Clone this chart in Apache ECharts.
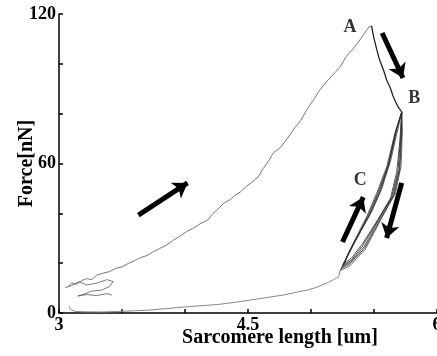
<!DOCTYPE html>
<html><head><meta charset="utf-8">
<script src="https://cdn.jsdelivr.net/npm/echarts@6/dist/echarts.min.js"></script>
<style>html,body{margin:0;padding:0;background:#fff}#c{width:437px;height:356px}</style>
</head><body><div id="c"></div>
<script>
// [sarcomere length (um), force (nN)]
const loading = [[3.07,10.4],[3.10,12.1],[3.14,11.5],[3.18,13.0],[3.22,13.8],[3.26,13.4],[3.30,15.2],[3.35,16.0],[3.40,16.6],[3.45,17.9],[3.50,18.5],[3.55,19.9],[3.60,21.0],[3.65,22.3],[3.70,23.1],[3.75,24.6],[3.80,25.9],[3.85,27.2],[3.91,29.3],[3.96,30.8],[4.01,32.6],[4.06,33.9],[4.12,35.8],[4.18,37.3],[4.22,39.8],[4.26,41.7],[4.31,44.1],[4.36,45.6],[4.40,47.3],[4.44,48.6],[4.49,51.0],[4.53,52.4],[4.58,54.6],[4.62,57.9],[4.66,60.8],[4.70,64.2],[4.76,66.5],[4.82,70.6],[4.87,74.3],[4.92,77.4],[4.97,81.8],[5.02,85.6],[5.07,89.5],[5.12,92.6],[5.17,95.4],[5.23,98.7],[5.28,102.9],[5.33,105.8],[5.37,108.3],[5.42,111.9],[5.46,114.8],[5.48,115.2]];
const relaxation = [[5.48,115.2],[5.50,110.2],[5.52,106.1],[5.54,102.3],[5.56,99.5],[5.58,96.8],[5.60,93.5],[5.63,90.3],[5.65,87.2],[5.67,84.9],[5.69,82.8],[5.72,80.7]];
const cycle1 = [[5.72,80.7],[5.725,73],[5.715,59],[5.67,48],[5.565,38.5],[5.43,25.5],[5.31,19],[5.23,17],[5.26,19.5],[5.30,24.5],[5.37,31.5],[5.44,38.5],[5.52,48],[5.60,58.6],[5.665,72],[5.72,80.7]];
const cycle2 = [[5.72,80.7],[5.72,72],[5.705,58],[5.66,47.5],[5.56,38.5],[5.425,26],[5.31,19.8],[5.24,17.8],[5.27,20.5],[5.31,25.3],[5.38,32],[5.45,38.8],[5.53,48.2],[5.61,59],[5.67,72.5],[5.72,80.7]];
const cycle3 = [[5.72,80.7],[5.715,71],[5.70,57.5],[5.65,47],[5.55,38.5],[5.42,26.5],[5.315,20.5],[5.245,18.5],[5.275,21.2],[5.32,26],[5.39,32.6],[5.46,39.2],[5.54,48.5],[5.615,59.4],[5.675,73],[5.72,80.7]];
const cycle4 = [[5.72,80.7],[5.71,70],[5.69,57],[5.64,46.5],[5.54,38],[5.41,27],[5.32,21.2],[5.25,19],[5.28,22],[5.33,26.8],[5.40,33.4],[5.47,39.8],[5.55,49],[5.62,60],[5.68,73.5],[5.72,80.7]];
const cycle5 = [[5.72,80.7],[5.705,69],[5.68,56.5],[5.63,46],[5.53,37.5],[5.405,27.5],[5.32,22],[5.255,19.6],[5.29,23],[5.34,27.8],[5.41,34.2],[5.48,40.5],[5.56,49.6],[5.63,60.8],[5.69,74],[5.72,80.7]];
const unloading = [[5.23,17],[5.22,14.6],[5.18,13.4],[5.12,11.9],[5.05,10.4],[4.98,9.3],[4.90,8.5],[4.78,7.2],[4.66,6.3],[4.52,5.2],[4.40,4.3],[4.26,3.4],[4.12,2.9],[3.99,2.4],[3.86,1.8],[3.73,1.2],[3.60,0.9],[3.46,0.6],[3.33,0.4],[3.20,0.5],[3.13,0.6],[3.09,1.4],[3.08,2.8]];
const tangle = [[3.05,10.2],[3.10,11.0],[3.16,12.6],[3.22,11.2],[3.30,12.0],[3.38,13.4],[3.43,12.6],[3.40,10.6],[3.34,9.2],[3.26,8.8],[3.20,7.6],[3.15,6.8],[3.22,7.4],[3.30,7.0],[3.38,7.8],[3.42,7.2]];
// arrows: [tail, head]
const arrows = [[[3.63,39.3],[4.02,52.2]],[[5.565,112.4],[5.73,94.3]],[[5.25,28.5],[5.415,46.5]],[[5.72,52.2],[5.60,30.1]]];
const markers = [[5.31,114.8,'A'],[5.82,86.3,'B'],[5.39,53.4,'C']];
const xTickLabels = ['3','4.5','6'];
const yTickLabels = ['0','60','120'];

const font = 'Liberation Serif';
function lineSeries(data, color, width) {
  return {type:'line', data:data, showSymbol:false, symbol:'none', silent:true, animation:false,
    lineStyle:{color:color, width:width}};
}
const chart = echarts.init(document.getElementById('c'), null, {renderer:'canvas'});
chart.setOption({
  animation:false,
  grid:{left:59, right:0, top:14, bottom:43, containLabel:false, outerBoundsMode:'none'},
  xAxis:{type:'value', min:3, max:6, interval:0.5,
    name:'Sarcomere length [um]', nameLocation:'middle', nameGap:15, nameMoveOverlap:false,
    nameTextStyle:{fontFamily:font, fontWeight:'bold', fontSize:20, color:'#000', padding:[0,0,0,64]},
    axisLine:{lineStyle:{color:'#000', width:1.5}},
    axisTick:{inside:true, length:4, lineStyle:{color:'#000', width:1.5}},
    axisLabel:{margin:3, fontFamily:font, fontWeight:'bold', fontSize:18, color:'#000', hideOverlap:false,
      formatter:v=>xTickLabels.includes(String(v))?String(v):''},
    splitLine:{show:false}},
  yAxis:{type:'value', min:0, max:120, interval:20,
    name:'Force[nN]', nameLocation:'middle', nameGap:22, nameMoveOverlap:false,
    nameTextStyle:{fontFamily:font, fontWeight:'bold', fontSize:20, color:'#000'},
    axisLine:{show:true, lineStyle:{color:'#000', width:1.5}},
    axisTick:{show:true, inside:true, length:4, lineStyle:{color:'#000', width:1.5}},
    axisLabel:{margin:3, fontFamily:font, fontWeight:'bold', fontSize:18, color:'#000',
      formatter:v=>yTickLabels.includes(String(v))?String(v):''},
    splitLine:{show:false}},
  series:[
    lineSeries(tangle,'#555',0.8),
    lineSeries(loading,'#777',1),
    lineSeries(unloading,'#888',1),
    lineSeries(relaxation,'#222',1.3),
    lineSeries(cycle1,'#444',0.8),
    lineSeries(cycle2,'#222',0.8),
    lineSeries(cycle3,'#333',0.8),
    lineSeries(cycle4,'#222',0.8),
    lineSeries(cycle5,'#333',0.8),
    {type:'line', data:[], silent:true,
      markLine:{silent:true, symbol:['none','arrow'], symbolSize:[14,14], animation:false,
        lineStyle:{color:'#000', width:5, type:'solid'}, label:{show:false},
        data:arrows.map(a=>[{coord:a[0]},{coord:a[1]}])}},
    {type:'scatter', data:markers, symbolSize:0, silent:true,
      label:{show:true, position:'inside', formatter:p=>p.value[2],
        fontFamily:font, fontWeight:'bold', fontSize:18, color:'#000'}}
  ]
});
</script></body></html>
